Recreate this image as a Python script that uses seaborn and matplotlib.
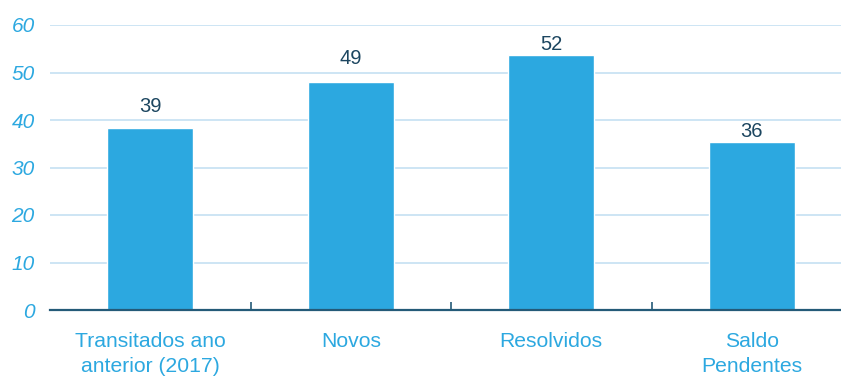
import matplotlib
matplotlib.use("Agg")
import matplotlib.pyplot as plt
import seaborn as sns
import pandas as pd

categories = ["Transitados ano\nanterior (2017)", "Novos", "Resolvidos", "Saldo\nPendentes"]
bar_values = [38.3, 48.0, 53.7, 35.4]
value_labels = ["39", "49", "52", "36"]
label_offsets_px = [22, 23, 10, 10]
yticks = [0, 10, 20, 30, 40, 50, 60]

BLUE = "#2ca8e0"
GRID = "#c9e3f3"
DARK = "#245a78"
LABEL_DARK = "#1c4660"

sns.set_theme(style="white")
plt.rcParams['font.family'] = ['Liberation Sans', 'DejaVu Sans']

df = pd.DataFrame({"cat": categories, "val": bar_values})

fig = plt.figure(figsize=(8.41, 3.77), dpi=100)
ax = fig.add_axes([50/841, 1 - 310/377, 1 - 50/841, (310 - 25)/377])

sns.barplot(data=df, x="cat", y="val", color=BLUE, saturation=1, width=0.43, ax=ax)

ax.set_ylim(0, 60)
ax.set_xlim(-0.5, 3.445)
ax.set_yticks(yticks)
ax.set_yticklabels([str(t) for t in yticks], fontstyle="italic", color=BLUE, fontsize=15)
ax.yaxis.grid(True, color=GRID, linewidth=1.3)
ax.set_axisbelow(True)
ax.tick_params(axis="y", length=0, pad=11)

ax.set_xticks(range(len(categories)))
ax.set_xticklabels(categories, color=BLUE, fontsize=15.2, linespacing=1.4)
ax.tick_params(axis="x", which="major", length=0, pad=16)
ax.set_xticks([0.5, 1.5, 2.5], minor=True)
ax.tick_params(axis="x", which="minor", bottom=True, direction="in", length=6, width=1.2, color=DARK)

for s in ["top", "right", "left"]:
    ax.spines[s].set_visible(False)
ax.spines["bottom"].set_color(DARK)
ax.spines["bottom"].set_linewidth(1.6)

ax.set_xlabel("")
ax.set_ylabel("")

for i, (v, lab, off) in enumerate(zip(bar_values, value_labels, label_offsets_px)):
    ax.annotate(lab, xy=(i, v), xytext=(0, off * 72 / 100), textcoords="offset points",
                ha="center", va="center", fontsize=14.5, color=LABEL_DARK)

fig.savefig("out.png", dpi=100)
